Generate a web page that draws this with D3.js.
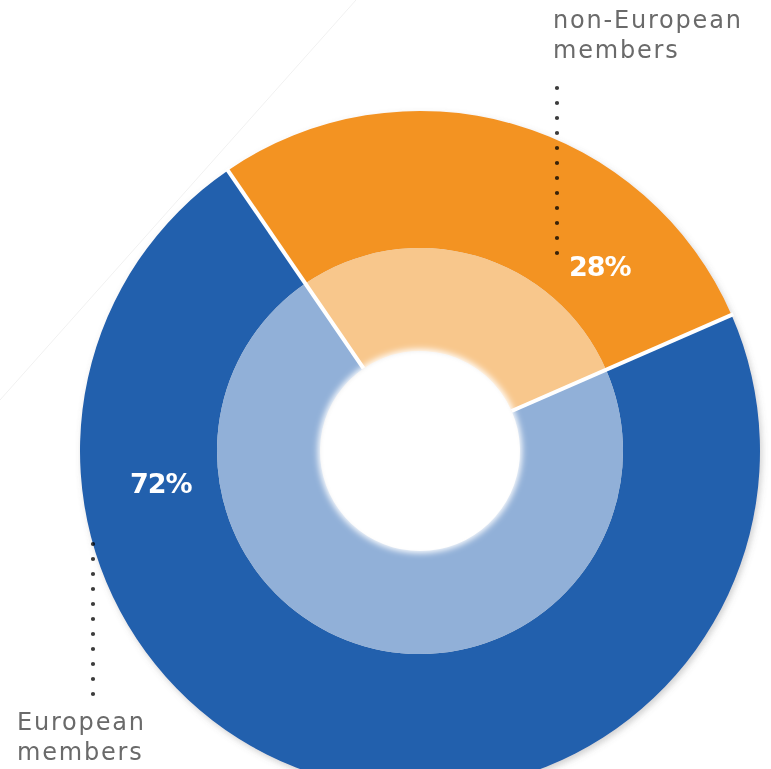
<!DOCTYPE html>
<html>
<head>
<meta charset="utf-8">
<script src="https://cdn.jsdelivr.net/npm/d3@7"></script>
<style>
  html, body { margin: 0; padding: 0; background: #fff; }
  svg { display: block; }
</style>
</head>
<body>
<svg id="chart" width="771" height="769"></svg>
<script>
// data //
const categories = ['European members', 'non-European members']
const labelLines = [['European', 'members'], ['non-European', 'members']]
const values = [72, 28]
const outerColors = ['#2160ad', '#f39322']
const innerColors = ['#91b0d8', '#f8c78c']

const width = 771
const height = 769
const cx = 420
const cy = 451

const rHole = 100
const rInner = 203
const rOuter = 340

const svg = d3.select('#chart')

// filters //
const defs = svg.append('defs')
const shadow = defs.append('filter').attr('id', 'shadow')
    .attr('x', '-20%').attr('y', '-20%').attr('width', '140%').attr('height', '140%')
shadow.append('feDropShadow')
    .attr('dx', 2).attr('dy', 3)
    .attr('stdDeviation', 3)
    .attr('flood-color', '#666')
    .attr('flood-opacity', 0.3)
const soft = defs.append('filter').attr('id', 'soft')
    .attr('x', '-20%').attr('y', '-20%').attr('width', '140%').attr('height', '140%')
soft.append('feGaussianBlur').attr('stdDeviation', 3)

// faint diagonal line in the background
svg.append('line')
    .attr('x1', 0).attr('y1', 400)
    .attr('x2', 356).attr('y2', 0)
    .attr('stroke', '#f1f1f1')
    .attr('stroke-width', 1)

// pie layout: non-European slice centred a little right of 12 o'clock
const total = d3.sum(values)
const midNonEu = 16 * Math.PI / 180
const start = midNonEu - Math.PI * (2 * values[0] / total + values[1] / total)

const pie = d3.pie()
    .sort(null)
    .value(d => d)
    .startAngle(start)
    .endAngle(start + 2 * Math.PI)

const arcs = pie(values)

const outerArc = d3.arc().innerRadius(rInner).outerRadius(rOuter)
const innerArc = d3.arc().innerRadius(rHole).outerRadius(rInner)

const g = svg.append('g').attr('transform', `translate(${cx},${cy})`)

const rings = g.append('g').attr('filter', 'url(#shadow)')

rings.selectAll('path.outer')
    .data(arcs)
    .join('path')
    .attr('class', 'outer')
    .attr('d', outerArc)
    .attr('fill', (d, i) => outerColors[i])

rings.selectAll('path.inner')
    .data(arcs)
    .join('path')
    .attr('class', 'inner')
    .attr('d', innerArc)
    .attr('fill', (d, i) => innerColors[i])

// white separators between the slices
g.selectAll('line.sep')
    .data(arcs)
    .join('line')
    .attr('class', 'sep')
    .attr('x1', d => rHole * Math.sin(d.startAngle))
    .attr('y1', d => -rHole * Math.cos(d.startAngle))
    .attr('x2', d => (rOuter + 2) * Math.sin(d.startAngle))
    .attr('y2', d => -(rOuter + 2) * Math.cos(d.startAngle))
    .attr('stroke', '#fff')
    .attr('stroke-width', 4)

// soft white hole
g.append('circle')
    .attr('r', rHole + 2)
    .attr('fill', '#fff')
    .attr('filter', 'url(#soft)')

// percentage labels //
const pctPos = [[130, 493], [569, 276]]
svg.selectAll('text.pct')
    .data(values)
    .join('text')
    .attr('class', 'pct')
    .attr('x', (d, i) => pctPos[i][0])
    .attr('y', (d, i) => pctPos[i][1])
    .attr('fill', '#fff')
    .style('font-family', 'DejaVu Sans, sans-serif')
    .style('font-weight', 'bold')
    .style('font-size', '27px')
    .style('letter-spacing', '-1px')
    .text(d => d + '%')

// category labels with dotted leaders //
const namePos = [[17, 730], [553, 28]]
const leaders = [[93, 544, 702], [557, 88, 268]]

leaders.forEach(([x, y1, y2]) => {
    svg.append('line')
        .attr('x1', x).attr('y1', y1)
        .attr('x2', x).attr('y2', y2)
        .attr('stroke', '#3c3c3c')
        .attr('stroke-width', 4.2)
        .attr('stroke-linecap', 'round')
        .attr('stroke-dasharray', '0,15')
        .style('mix-blend-mode', 'multiply')
})

categories.forEach((c, i) => {
    const t = svg.append('text')
        .attr('x', namePos[i][0])
        .attr('y', namePos[i][1])
        .attr('fill', '#6a6a6a')
        .style('font-family', 'DejaVu Sans, sans-serif')
        .style('font-size', '24px')
        .style('letter-spacing', '1.8px')
    labelLines[i].forEach((line, k) => {
        t.append('tspan')
            .attr('x', namePos[i][0])
            .attr('dy', k === 0 ? 0 : 30)
            .text(line)
    })
})
</script>
</body>
</html>
